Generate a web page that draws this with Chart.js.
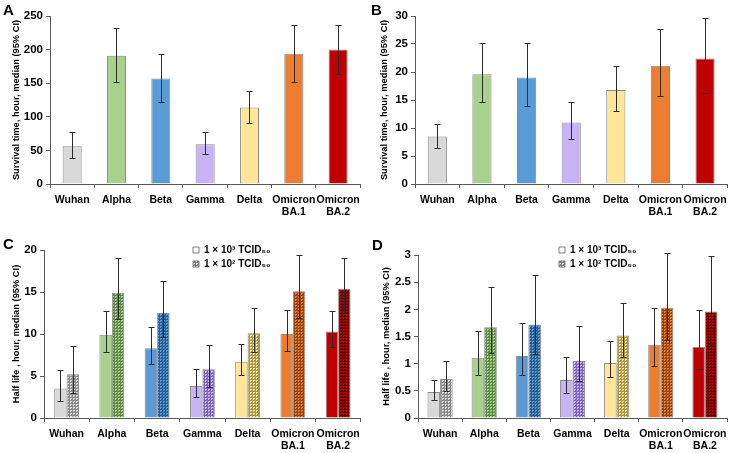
<!DOCTYPE html>
<html>
<head>
<meta charset="utf-8">
<script src="https://cdn.jsdelivr.net/npm/chart.js@4.4.1/dist/chart.umd.min.js"></script>
<style>
  body { margin: 0; background: #fff; width: 733px; height: 453px; position: relative; overflow: hidden; font-family: "Liberation Sans", Arial, sans-serif; }
  .panel { position: absolute; }
  .tag { position: absolute; font-weight: bold; font-size: 15px; line-height: 15px; color: #000; }
</style>
</head>
<body>
<div class="panel" style="left:0;top:0"><canvas id="chartA" width="366" height="226"></canvas></div>
<div class="panel" style="left:366px;top:0"><canvas id="chartB" width="367" height="226"></canvas></div>
<div class="panel" style="left:0;top:226px"><canvas id="chartC" width="366" height="227"></canvas></div>
<div class="panel" style="left:366px;top:226px"><canvas id="chartD" width="367" height="227"></canvas></div>
<div class="tag" style="left:3px;top:2px">A</div>
<div class="tag" style="left:371px;top:2px">B</div>
<div class="tag" style="left:3px;top:236px">C</div>
<div class="tag" style="left:372px;top:237px">D</div>
<script>
const variants = ['Wuhan', 'Alpha', 'Beta', 'Gamma', 'Delta', ['Omicron', 'BA.1'], ['Omicron', 'BA.2']];

// A: survival time (hours), median and 95% CI
const survivalA = [56, 191, 157, 59, 114, 194, 200];
const survivalALow = [38, 152, 122, 44, 91, 152, 164];
const survivalAHigh = [77, 232, 193, 78, 139, 236, 237];

// B: survival time (hours), median and 95% CI
const survivalB = [8.5, 19.6, 19.0, 11.0, 16.8, 21.1, 22.4];
const survivalBLow = [6.5, 14.7, 13.9, 8.0, 13.1, 15.7, 16.3];
const survivalBHigh = [10.8, 25.2, 25.2, 14.7, 21.0, 27.6, 29.7];

// C: half life, two inocula
const halfC3 = [3.5, 9.9, 8.3, 3.8, 6.7, 10.0, 10.3];
const halfC3Low = [2.0, 7.9, 6.4, 2.5, 5.1, 8.0, 8.4];
const halfC3High = [5.7, 12.7, 10.8, 5.8, 8.8, 12.9, 12.7];
const halfC2 = [5.2, 14.9, 12.5, 5.8, 10.1, 15.1, 15.4];
const halfC2Low = [3.0, 11.8, 9.6, 3.7, 7.8, 11.9, 12.6];
const halfC2High = [8.6, 19.1, 16.3, 8.7, 13.1, 19.4, 19.0];

// D: half life, two inocula
const halfD3 = [0.48, 1.11, 1.14, 0.70, 1.01, 1.35, 1.31];
const halfD3Low = [0.33, 0.80, 0.80, 0.46, 0.75, 0.96, 0.91];
const halfD3High = [0.70, 1.61, 1.75, 1.12, 1.42, 2.02, 1.99];
const halfD2 = [0.72, 1.67, 1.72, 1.05, 1.52, 2.03, 1.96];
const halfD2Low = [0.50, 1.20, 1.18, 0.68, 1.12, 1.44, 1.37];
const halfD2High = [1.05, 2.42, 2.63, 1.69, 2.12, 3.04, 2.98];

const doseLabels = ['1 × 10³ TCID₅₀', '1 × 10² TCID₅₀'];

const fills = ['#d9d9d9', '#a9d18e', '#5b9bd5', '#c9b3f7', '#ffe699', '#ed7d31', '#c00000'];
const dotColors = ['#8a8a8a', '#5e8a47', '#275d92', '#7d66b3', '#a8964e', '#954510', '#660000'];

Chart.defaults.font.family = '"Liberation Sans", Arial, "DejaVu Sans", sans-serif';
Chart.defaults.font.weight = 'bold';
Chart.defaults.color = '#000';
Chart.defaults.animation = false;

// small dotted fill for the 10^2 bars
function dotted(base, dark) {
  const c = document.createElement('canvas');
  c.width = 3;
  c.height = 3;
  const g = c.getContext('2d');
  g.fillStyle = dark;
  g.fillRect(0, 0, 3, 3);
  g.fillStyle = base;
  g.fillRect(1, 1, 2, 2);
  g.fillStyle = dark;
  g.fillRect(2, 2, 1, 1);
  return g.createPattern(c, 'repeat');
}

const errorBars = {
  id: 'errorBars',
  afterDatasetsDraw(chart) {
    const { ctx } = chart;
    const y = chart.scales.y;
    ctx.save();
    ctx.strokeStyle = '#2b2b2b';
    ctx.lineWidth = 1;
    chart.data.datasets.forEach((ds, i) => {
      if (!ds.errLow) return;
      chart.getDatasetMeta(i).data.forEach((bar, j) => {
        const x = Math.round(bar.x) + 0.5;
        const hi = Math.round(y.getPixelForValue(ds.errHigh[j])) + 0.5;
        const lo = Math.round(y.getPixelForValue(ds.errLow[j])) + 0.5;
        ctx.beginPath();
        ctx.moveTo(x, hi); ctx.lineTo(x, lo);
        ctx.moveTo(x - 3, hi); ctx.lineTo(x + 3, hi);
        ctx.moveTo(x - 3, lo); ctx.lineTo(x + 3, lo);
        ctx.stroke();
      });
    });
    ctx.restore();
  }
};

// move the legend to a spot inside the plot
const legendSpot = {
  id: 'legendSpot',
  afterLayout(chart, args, opts) {
    if (opts.x === undefined || !chart.legend) return;
    chart.legend.left = opts.x;
    chart.legend.top = opts.y;
  }
};

function makeChart(id, area, yMax, yStep, yTitle, titlePad, datasets, legendAt) {
  const canvas = document.getElementById(id);
  const axisColor = '#595959';
  const options = {
    responsive: false,
    layout: { padding: { top: area.top, right: canvas.width - area.right, left: 0, bottom: 0 } },
    plugins: {
      tooltip: { enabled: false },
      legend: { display: false },
      legendSpot: legendAt || {}
    },
    scales: {
      x: {
        grid: { display: true, drawOnChartArea: false, drawTicks: true, tickLength: 4, color: axisColor, offset: true },
        border: { display: true, color: axisColor, width: 1 },
        ticks: { padding: 6, maxRotation: 0, autoSkip: false, font: { size: 10.5, weight: 'bold', lineHeight: 1.14 }, color: '#000' },
        afterFit: (s) => { s.height = canvas.height - area.bottom; }
      },
      y: {
        min: 0,
        max: yMax,
        grid: { display: true, drawOnChartArea: false, drawTicks: true, tickLength: 4, color: axisColor },
        border: { display: true, color: axisColor, width: 1 },
        ticks: { stepSize: yStep, padding: 3, font: { size: 11.5, weight: 'bold' }, color: '#000', callback: (v) => String(v) },
        title: { display: true, text: yTitle, font: { size: 9.3, weight: 'bold' }, color: '#000', padding: { top: titlePad, bottom: 0 } },
        afterFit: (s) => { s.width = area.left; }
      }
    }
  };
  if (legendAt) {
    options.plugins.legend = {
      display: true,
      position: 'chartArea',
      align: 'start',
      labels: {
        boxWidth: 6,
        boxHeight: 6,
        padding: 4,
        color: '#000',
        font: { size: 10, weight: 'bold' },
        generateLabels: () => [
          { text: doseLabels[0], fillStyle: '#ffffff', strokeStyle: '#7f7f7f', lineWidth: 1, datasetIndex: 0 },
          { text: doseLabels[1], fillStyle: dotted('#dcdcdc', '#808080'), strokeStyle: '#7f7f7f', lineWidth: 1, datasetIndex: 1 }
        ]
      }
    };
  }
  return new Chart(canvas.getContext('2d'), {
    type: 'bar',
    data: { labels: variants, datasets },
    options,
    plugins: [errorBars, legendSpot]
  });
}

const barBorder = 'rgba(60, 60, 60, 0.6)';

function singleSet(values, low, high) {
  return [{
    data: values,
    errLow: low,
    errHigh: high,
    backgroundColor: fills,
    borderColor: barBorder,
    borderWidth: 1,
    categoryPercentage: 0.86,
    barPercentage: 0.5
  }];
}

function pairedSets(v3, l3, h3, v2, l2, h2, share) {
  return [
    {
      label: doseLabels[0], data: v3, errLow: l3, errHigh: h3,
      backgroundColor: fills, borderColor: barBorder, borderWidth: 1,
      categoryPercentage: share, barPercentage: 1
    },
    {
      label: doseLabels[1], data: v2, errLow: l2, errHigh: h2,
      backgroundColor: fills.map((c, i) => dotted(c, dotColors[i])), borderColor: barBorder, borderWidth: 1,
      categoryPercentage: share, barPercentage: 1
    }
  ];
}

makeChart('chartA', { left: 50, top: 16, right: 362, bottom: 184 }, 250, 50,
  'Survival time, hour, median (95% CI)', 10.5,
  singleSet(survivalA, survivalALow, survivalAHigh));

makeChart('chartB', { left: 49, top: 16, right: 362, bottom: 184 }, 30, 5,
  'Survival time, hour, median (95% CI)', 12.5,
  singleSet(survivalB, survivalBLow, survivalBHigh));

makeChart('chartC', { left: 44, top: 24, right: 362, bottom: 192 }, 20, 5,
  'Half life , hour, median (95% CI)', 10.5,
  pairedSets(halfC3, halfC3Low, halfC3High, halfC2, halfC2Low, halfC2High, 0.55),
  { x: 189, y: 15 });

makeChart('chartD', { left: 52, top: 29, right: 361, bottom: 192 }, 3, 0.5,
  'Half life , hour, median (95% CI)', 14.5,
  pairedSets(halfD3, halfD3Low, halfD3High, halfD2, halfD2Low, halfD2High, 0.57),
  { x: 189, y: 15 });
</script>
</body>
</html>
